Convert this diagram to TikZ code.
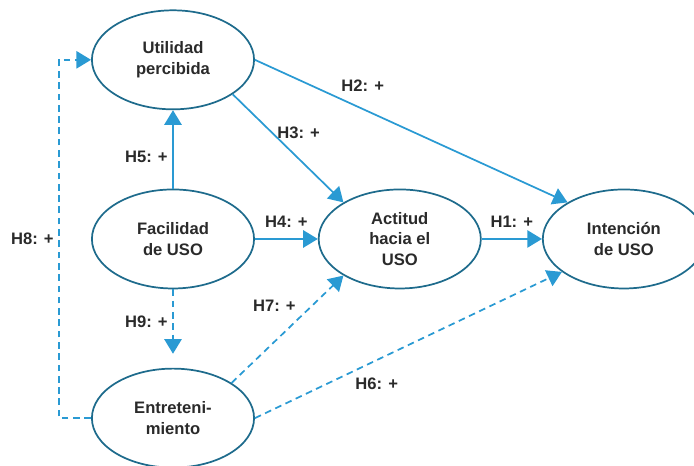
\documentclass[tikz,border=0pt]{standalone}
\usepackage{fontspec}
\setmainfont{Liberation Sans}
\usepackage{xcolor}
\usepackage{tikz}
\usetikzlibrary{shapes.geometric, arrows.meta}
\definecolor{ringblue}{HTML}{1E6B8C}
\definecolor{linkblue}{HTML}{2A9AD3}
\definecolor{inkgrey}{HTML}{2A2A2A}
\tikzstyle{construct} = [ellipse, minimum width=4.29cm, minimum height=2.62cm, inner sep=0pt, text centered, align=center, draw=ringblue, line width=1.3pt, text=inkgrey, font=\bfseries\fontsize{12.5}{15.5}\selectfont]
\tikzstyle{arrow} = [line width=1.3pt, linkblue, -{Triangle[length=11pt,width=13pt]}]
\tikzstyle{dasharrow} = [arrow, dash pattern=on 5pt off 3.5pt]
\tikzstyle{hyp} = [text=inkgrey, font=\bfseries\fontsize{12.5}{15}\selectfont]

\begin{document}
\begin{tikzpicture}[node distance=4.74cm]
	\useasboundingbox (-4.577,-6.006) rectangle (13.785,6.323);
	\node (facilidad) [construct] {Facilidad\\de USO};
	\node (utilidad) [construct, above of=facilidad] {Utilidad\\percibida};
	\node (entret) [construct, below of=facilidad] {Entreteni-\\miento};
	\node (actitud) [construct, right of=facilidad, xshift=1.26cm] {Actitud\\hacia el\\USO};
	\node (intencion) [construct, right of=actitud, xshift=1.19cm] {Intención\\de USO};

	\draw [arrow] (facilidad.north) -- node[hyp, anchor=east, pos=0.4] {H5: +} (utilidad.south);
	\draw [arrow] (utilidad.-30) -- node[hyp, anchor=west, pos=0.355] {H3: +} (actitud.147);
	\draw [arrow] (utilidad.east) -- node[hyp, anchor=south west, pos=0.26] {H2: +} (intencion.147);
	\draw [arrow] (facilidad.east) -- node[hyp, anchor=south, yshift=1.6mm] {H4: +} (actitud.west);
	\draw [arrow] (actitud.east) -- node[hyp, anchor=south, yshift=1.6mm] {H1: +} (intencion.west);
	\draw [dasharrow, shorten >=0.37cm] (facilidad.south) -- node[hyp, anchor=east, pos=0.41] {H9: +} (entret.north);
	\draw [dasharrow] (entret.31) -- node[hyp, anchor=south east, pos=0.62] {H7: +} (actitud.213);
	\draw [dasharrow] (entret.east) -- node[hyp, anchor=north west, pos=0.31] {H6: +} (intencion.208);
	\draw [dasharrow] (entret.west) -- ++(-0.85,0) |- node[hyp, anchor=east, pos=0.25] {H8: +} (utilidad.west);
\end{tikzpicture}
\end{document}
